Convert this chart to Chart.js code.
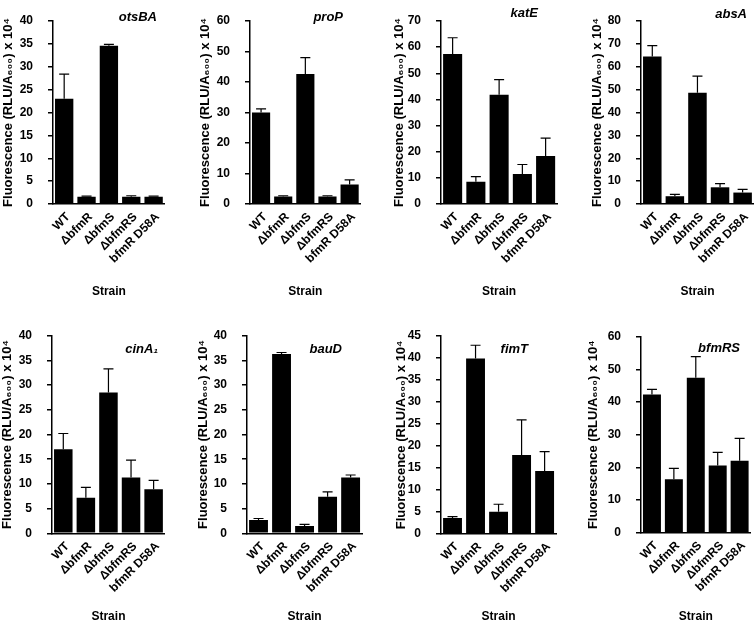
<!DOCTYPE html>
<html>
<head>
<meta charset="utf-8">
<script src="https://cdn.jsdelivr.net/npm/chart.js@4"></script>
<style>
  html, body { margin: 0; padding: 0; background: #fff; }
  body { position: relative; width: 755px; height: 625px; overflow: hidden; }
  canvas { position: absolute; }
</style>
</head>
<body>
<script>
// strains along the x axis of every panel
const strains = ['WT', 'ΔbfmR', 'ΔbfmS', 'ΔbfmRS', 'bfmR D58A'];
const genes = ['otsBA', 'proP', 'katE', 'absA', 'cinA₁', 'bauD', 'fimT', 'bfmRS'];

// mean fluorescence (RLU/A600 x 10^4) and upper error (SD)
const otsBA = [23.0, 1.6, 34.6, 1.6, 1.6];
const otsBASd = [5.4, 0.1, 0.3, 0.2, 0.1];
const proP = [30.0, 2.5, 42.6, 2.5, 6.4];
const proPSd = [1.2, 0.2, 5.4, 0.2, 1.5];
const katE = [57.4, 8.5, 41.8, 11.5, 18.4];
const katESd = [6.2, 2.0, 5.8, 3.6, 6.8];
const absA = [64.5, 3.4, 48.6, 7.3, 5.0];
const absASd = [4.7, 0.8, 7.3, 1.6, 1.4];
const cinA1 = [17.0, 7.2, 28.5, 11.3, 8.9];
const cinA1Sd = [3.2, 2.1, 4.8, 3.5, 1.8];
const bauD = [2.7, 36.3, 1.5, 7.4, 11.3];
const bauDSd = [0.3, 0.3, 0.3, 1.0, 0.5];
const fimT = [3.6, 39.9, 5.0, 17.9, 14.3];
const fimTSd = [0.3, 3.0, 1.7, 8.0, 4.4];
const bfmRS = [42.3, 16.4, 47.4, 20.6, 22.0];
const bfmRSSd = [1.6, 3.3, 6.5, 4.0, 6.9];

// y axis range of each panel
const yMax = [40, 60, 70, 80, 40, 40, 45, 60];
const yStep = [5, 10, 10, 10, 5, 5, 5, 10];

const means = [otsBA, proP, katE, absA, cinA1, bauD, fimT, bfmRS];
const sds = [otsBASd, proPSd, katESd, absASd, cinA1Sd, bauDSd, fimTSd, bfmRSSd];

// where each panel sits on the page (pixels)
const panels = [
  { left: 0,   top: 0,   bottom: 300, axisX: 53,  right: 168, yTop: 7.3,   yZero: 204,   titleX: 8,   geneRight: 157, geneY: 17,  strainY: 292 },
  { left: 190, top: 0,   bottom: 300, axisX: 250, right: 364, yTop: 6.7,   yZero: 204,   titleX: 205, geneRight: 343, geneY: 17,  strainY: 292 },
  { left: 380, top: 0,   bottom: 300, axisX: 441, right: 560, yTop: 6,     yZero: 204,   titleX: 399, geneRight: 538, geneY: 13,  strainY: 292 },
  { left: 565, top: 0,   bottom: 300, axisX: 641, right: 757, yTop: 6.7,   yZero: 204,   titleX: 597, geneRight: 747, geneY: 14,  strainY: 292 },
  { left: 0,   top: 310, bottom: 625, axisX: 52,  right: 168, yTop: 335.7, yZero: 533.3, titleX: 7,   geneRight: 158, geneY: 349, strainY: 617 },
  { left: 190, top: 310, bottom: 625, axisX: 247, right: 365, yTop: 335.7, yZero: 533.3, titleX: 203, geneRight: 342, geneY: 349, strainY: 617 },
  { left: 380, top: 310, bottom: 625, axisX: 441, right: 559, yTop: 336,   yZero: 533.7, titleX: 401, geneRight: 528, geneY: 349, strainY: 617 },
  { left: 565, top: 310, bottom: 625, axisX: 641, right: 754, yTop: 336.7, yZero: 532.7, titleX: 593, geneRight: 740, geneY: 348, strainY: 617 }
];

const FONT = '"Liberation Sans", Arial, Helvetica, sans-serif';
Chart.defaults.font.family = FONT;
Chart.defaults.color = '#000';

// upper error bars, drawn with the panel's own y scale
const errorBars = {
  id: 'errorBars',
  afterDatasetsDraw(chart, args, opts) {
    const ctx = chart.ctx;
    const y = chart.scales.y;
    const meta = chart.getDatasetMeta(0);
    ctx.save();
    ctx.strokeStyle = '#000';
    ctx.lineWidth = 1.2;
    meta.data.forEach((bar, i) => {
      const top = y.getPixelForValue(opts.mean[i] + opts.sd[i]);
      ctx.beginPath();
      ctx.moveTo(bar.x, bar.y);
      ctx.lineTo(bar.x, top);
      ctx.moveTo(bar.x - 5, top);
      ctx.lineTo(bar.x + 5, top);
      ctx.stroke();
    });
    ctx.restore();
  }
};

// italic gene name in the upper right of each panel
const geneLabel = {
  id: 'geneLabel',
  afterDraw(chart, args, opts) {
    const ctx = chart.ctx;
    ctx.save();
    ctx.fillStyle = '#000';
    ctx.font = 'italic bold 13px ' + FONT;
    ctx.textAlign = 'right';
    ctx.textBaseline = 'middle';
    ctx.fillText(opts.text, opts.x, opts.y);
    ctx.restore();
  }
};

panels.forEach((p, i) => {
  const w = Math.ceil(p.right - p.left + 2);
  const h = p.bottom - p.top;
  const canvas = document.createElement('canvas');
  canvas.width = w;
  canvas.height = h;
  canvas.style.left = p.left + 'px';
  canvas.style.top = p.top + 'px';
  document.body.appendChild(canvas);

  const xHeight = (p.strainY + 7) - p.yZero;
  const yWidth = p.axisX - p.left;

  new Chart(canvas, {
    type: 'bar',
    data: {
      labels: strains,
      datasets: [{
        data: means[i],
        backgroundColor: '#000',
        borderWidth: 0,
        barPercentage: 0.82,
        categoryPercentage: 1
      }]
    },
    options: {
      responsive: false,
      animation: false,
      devicePixelRatio: 1,
      layout: {
        padding: {
          left: 0,
          top: p.yTop - p.top,
          right: w - (p.right - p.left),
          bottom: h - (p.strainY + 7 - p.top)
        }
      },
      plugins: {
        legend: { display: false },
        tooltip: { enabled: false },
        errorBars: { mean: means[i], sd: sds[i] },
        geneLabel: { text: genes[i], x: p.geneRight - p.left, y: p.geneY - p.top }
      },
      scales: {
        x: {
          grid: { display: false, drawTicks: false },
          border: { display: true, color: '#000', width: 1.5 },
          ticks: {
            color: '#000',
            font: { size: 12, weight: 'bold' },
            minRotation: 45,
            maxRotation: 45,
            autoSkip: false,
            padding: 6,
            labelOffset: 4
          },
          title: {
            display: true,
            text: 'Strain',
            color: '#000',
            font: { size: 12, weight: 'bold', lineHeight: 1.2 },
            padding: 0
          },
          afterFit: s => { s.height = xHeight; }
        },
        y: {
          min: 0,
          max: yMax[i],
          ticks: {
            stepSize: yStep[i],
            color: '#000',
            font: { size: 12, weight: 'bold', lineHeight: 1 },
            padding: 15
          },
          grid: { drawOnChartArea: false, drawTicks: true, tickLength: 5, color: '#000', lineWidth: 1.5 },
          border: { display: true, color: '#000', width: 1.5 },
          title: {
            display: true,
            text: 'Fluorescence (RLU/A₆₀₀) x 10⁴',
            color: '#000',
            font: { size: 13, weight: 'bold', lineHeight: 1.2 },
            padding: { top: Math.max(0, p.titleX - p.left - 7.8), bottom: 0 }
          },
          afterFit: s => { s.width = yWidth; }
        }
      }
    },
    plugins: [errorBars, geneLabel]
  });
});
</script>
</body>
</html>
